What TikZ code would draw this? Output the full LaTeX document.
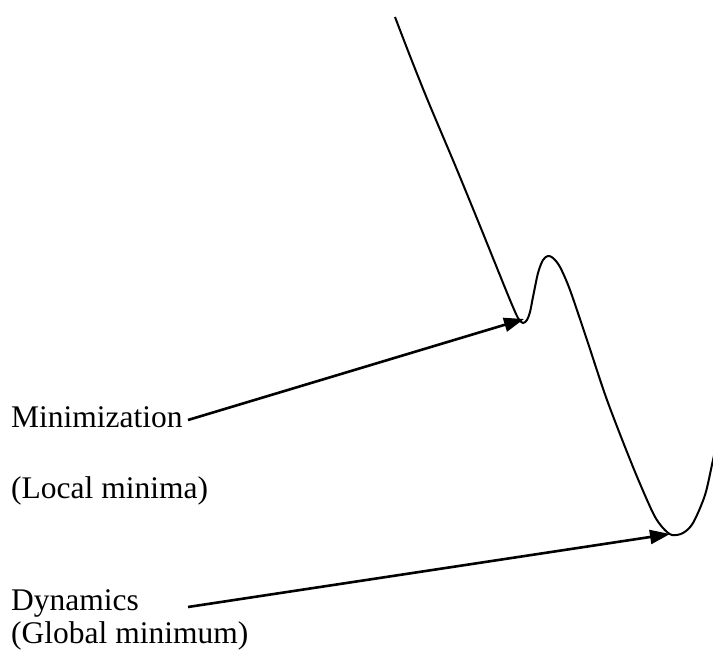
\documentclass[tikz,border=0pt]{standalone}
\usepackage{fontspec}
\setmainfont{Liberation Serif}
\usetikzlibrary{arrows.meta}
\newcommand{\wtxt}[4]{\node[anchor=base west] (#1) at (#2,#3) {#4};}

\begin{document}
\begin{tikzpicture}[x=1pt, y=-1pt,
  every node/.style={font=\fontsize{31.5}{36}\selectfont, inner sep=0pt},
  pes/.style={line width=2pt, line join=round},
  ptr/.style={line width=2.6pt, -{Triangle[length=20pt, width=14pt]}}]
\useasboundingbox (0,0) rectangle (713,650);
% energy curve
\begin{scope}
\clip (0,0) rectangle (713,650);
\draw[pes] plot[smooth, tension=0.5] coordinates {
  (395,17) (410,56) (428,101) (455,165) (478,221) (497,268) (510,300)
  (518,318) (523,323) (527,320) (530,312) (533,297) (538,273) (543,260)
  (548,256) (553,258) (560,267) (570,290) (587,340) (607,400) (633,467)
  (653,513) (663,528) (672,535) (683,533) (693,523) (705,495) (713,460)
  (722,420)};
\end{scope}
% minima
\coordinate (locmin) at (524,319);
\coordinate (glomin) at (670,534);
% labels
\wtxt{mini}{11}{427}{Minimization}
\wtxt{local}{11}{498}{(Local minima)}
\wtxt{dyn}{11}{610}{Dynamics}
\wtxt{global}{11}{643}{(Global minimum)}
% arrows
\coordinate (ministart) at (188,420);
\coordinate (dynstart) at (188,607);
\draw[ptr] (ministart) -- (locmin);
\draw[ptr] (dynstart) -- (glomin);
\end{tikzpicture}
\end{document}
